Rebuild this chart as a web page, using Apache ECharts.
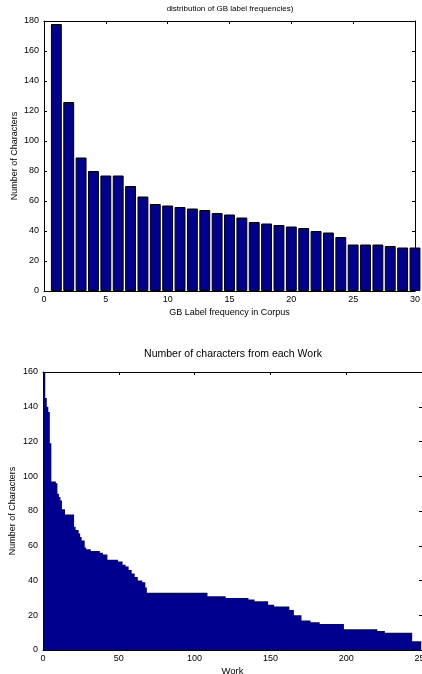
<!DOCTYPE html>
<html>
<head>
<meta charset="utf-8">
<script src="https://cdn.jsdelivr.net/npm/echarts@6.0.0/dist/echarts.min.js"></script>
<style>
  html, body { margin: 0; padding: 0; background: #fff; }
  #chart { width: 422px; height: 674px; }
</style>
</head>
<body>
<div id="chart"></div>
<script>
// top chart: characters per GB label frequency (1..30)
var gbFreq = [1, 2, 3, 4, 5, 6, 7, 8, 9, 10, 11, 12, 13, 14, 15,
              16, 17, 18, 19, 20, 21, 22, 23, 24, 25, 26, 27, 28, 29, 30];
var gbChars = [178, 126, 89, 80, 77, 77, 70, 63, 58, 57, 56, 55, 54, 52, 51,
               49, 46, 45, 44, 43, 42, 40, 39, 36, 31, 31, 31, 30, 29, 29];

// bottom chart: characters from each work, sorted (work 1..249)
var workChars = [
  160, 145, 140, 137, 119, 97, 97, 97, 96, 90,
  88, 86, 81, 81, 78, 78, 78, 78, 78, 78,
  71, 69, 69, 67, 65, 63, 63, 59, 58, 58,
  58, 57, 57, 57, 57, 57, 57, 56, 56, 55,
  55, 55, 52, 52, 52, 52, 52, 52, 52, 51,
  51, 51, 49, 49, 48, 48, 46, 46, 44, 44,
  42, 42, 40, 40, 40, 39, 39, 36, 33, 33,
  33, 33, 33, 33, 33, 33, 33, 33, 33, 33,
  33, 33, 33, 33, 33, 33, 33, 33, 33, 33,
  33, 33, 33, 33, 33, 33, 33, 33, 33, 33,
  33, 33, 33, 33, 33, 33, 33, 33, 31, 31,
  31, 31, 31, 31, 31, 31, 31, 31, 31, 31,
  30, 30, 30, 30, 30, 30, 30, 30, 30, 30,
  30, 30, 30, 30, 30, 29, 29, 29, 29, 28,
  28, 28, 28, 28, 28, 28, 28, 28, 26, 26,
  26, 26, 25, 25, 25, 25, 25, 25, 25, 25,
  25, 25, 23, 23, 23, 20, 20, 20, 20, 20,
  17, 17, 17, 17, 17, 17, 16, 16, 16, 16,
  16, 16, 15, 15, 15, 15, 15, 15, 15, 15,
  15, 15, 15, 15, 15, 15, 15, 15, 12, 12,
  12, 12, 12, 12, 12, 12, 12, 12, 12, 12,
  12, 12, 12, 12, 12, 12, 12, 12, 12, 12,
  11, 11, 11, 11, 11, 10, 10, 10, 10, 10,
  10, 10, 10, 10, 10, 10, 10, 10, 10, 10,
  10, 10, 10, 5, 5, 5, 5, 5, 5
];

var barColor = '#00008f';
var font = 'Liberation Sans, Arial, sans-serif';

// matlab style box axis: ticks inside, mirror axis without labels
function boxAxis(gridIndex, position, min, max, interval, showLabel) {
    return {
        type: 'value',
        gridIndex: gridIndex,
        position: position,
        min: min,
        max: max,
        interval: interval,
        splitLine: { show: false },
        axisLine: { show: true, onZero: false, lineStyle: { color: '#000', width: 1 } },
        axisTick: { show: true, inside: true, length: 3, lineStyle: { color: '#000' } },
        axisLabel: { show: showLabel, color: '#000', fontSize: 9, fontFamily: font, margin: 5,
                     hideOverlap: false }
    };
}

var xTop = boxAxis(0, 'bottom', 0, 30, 5, true);
xTop.name = 'GB Label frequency in Corpus';
xTop.nameLocation = 'middle';
xTop.nameGap = 17;
xTop.nameMoveOverlap = false;
xTop.nameTextStyle = { color: '#000', fontSize: 9, fontFamily: font };
xTop.axisLabel.margin = 4;

var yTop = boxAxis(0, 'left', 0, 180, 20, true);
yTop.name = 'Number of Characters';
yTop.nameLocation = 'middle';
yTop.nameGap = 25;
yTop.nameMoveOverlap = false;
yTop.nameTextStyle = { color: '#000', fontSize: 9, fontFamily: font };

var xBot = boxAxis(1, 'bottom', 0, 250, 50, true);
xBot.name = 'Work';
xBot.nameLocation = 'middle';
xBot.nameGap = 16;
xBot.nameMoveOverlap = false;
xBot.nameTextStyle = { color: '#000', fontSize: 9.5, fontFamily: font };
xBot.axisLabel.margin = 4;

var yBot = boxAxis(1, 'left', 0, 160, 20, true);
yBot.name = 'Number of Characters';
yBot.nameLocation = 'middle';
yBot.nameGap = 26;
yBot.nameMoveOverlap = false;
yBot.nameTextStyle = { color: '#000', fontSize: 9, fontFamily: font };

var option = {
    animation: false,
    backgroundColor: '#fff',
    title: [
        {
            text: 'distribution of GB label frequencies)',
            left: 230, top: 5, textAlign: 'center', padding: 0,
            textStyle: { color: '#000', fontSize: 8, fontWeight: 'normal', fontFamily: font }
        },
        {
            text: 'Number of characters from each Work',
            left: 233, top: 349, textAlign: 'center', padding: 0,
            textStyle: { color: '#000', fontSize: 10.5, fontWeight: 'normal', fontFamily: font }
        }
    ],
    grid: [
        { left: 44, top: 21, right: 7, bottom: 383, outerBoundsMode: 'none' },
        { left: 43, top: 372, right: 0, bottom: 24, outerBoundsMode: 'none' }
    ],
    xAxis: [
        xTop,
        boxAxis(0, 'top', 0, 30, 5, false),
        xBot,
        boxAxis(1, 'top', 0, 250, 50, false)
    ],
    yAxis: [
        yTop,
        boxAxis(0, 'right', 0, 180, 20, false),
        yBot,
        boxAxis(1, 'right', 0, 160, 20, false)
    ],
    series: [
        {
            type: 'bar',
            xAxisIndex: 0,
            yAxisIndex: 0,
            barWidth: '88%',
            data: gbFreq.map(function (f, i) { return [f, gbChars[i]]; }),
            itemStyle: { color: barColor, borderColor: '#000', borderWidth: 1 }
        },
        {
            type: 'bar',
            xAxisIndex: 2,
            yAxisIndex: 2,
            barWidth: '100%',
            large: true,
            largeThreshold: 50,
            data: workChars.map(function (v, i) { return [i + 1, v]; }),
            itemStyle: { color: barColor }
        }
    ]
};

var myChart = echarts.init(document.getElementById('chart'));
myChart.setOption(option);
</script>
</body>
</html>
